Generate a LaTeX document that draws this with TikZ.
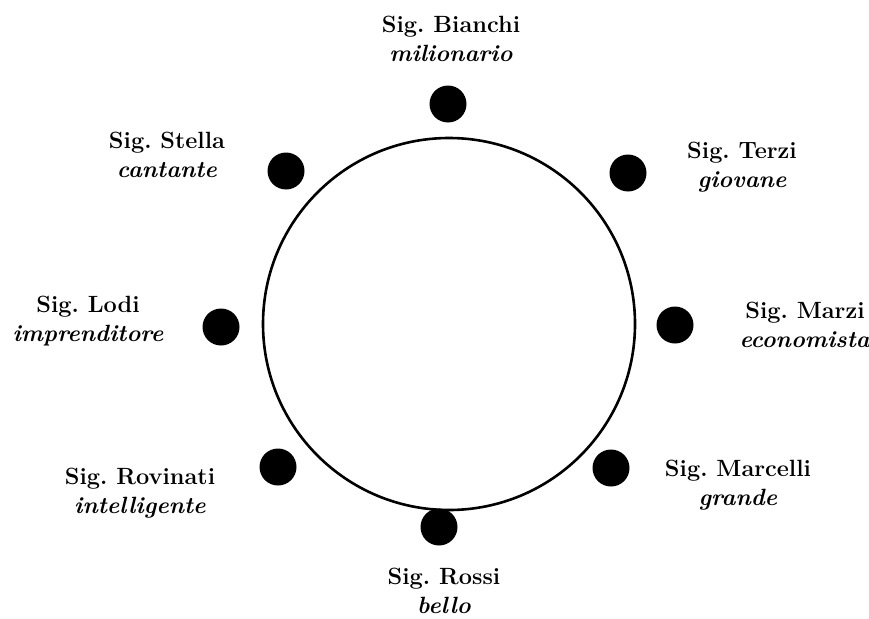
\documentclass[tikz,border=0pt]{standalone}
\usepackage{fontspec}
\frenchspacing
\begin{document}
\begin{tikzpicture}[
  x=1pt, y=-1pt,
  seat/.style={
    circle,
    fill=black,
    inner sep=0pt,
    minimum size=37pt
  },
  guest/.style={
    align=center,
    inner sep=0pt,
    font=\fontsize{23.5}{29}\selectfont\bfseries
  }
]
  \useasboundingbox (0,0) rectangle (869,618);
  \node[draw, circle, line width=2.6pt, inner sep=0pt, minimum size=372pt] (table) at (449,324) {};
  % seats and guests round the table
  \foreach \n/\sx/\sy/\gx/\gy/\who/\what in {
    bianchi/448/104/451/39/Bianchi/milionario,
    terzi/628/173/742/167/Terzi/giovane,
    marzi/675/325/805/325/Marzi/economista,
    marcelli/611/468/738/485/Marcelli/grande,
    rossi/439/527/444/591/Rossi/bello,
    rovinati/278/467/140/493/Rovinati/intelligente,
    lodi/221/327/88/321/Lodi/imprenditore,
    stella/286/171/167/155/Stella/cantante}{
    \node[seat] (seat-\n) at (\sx,\sy) {};
    \node[guest] (guest-\n) at (\gx,\gy) {Sig. \who\\\textit{\what}};
  }
\end{tikzpicture}
\end{document}
